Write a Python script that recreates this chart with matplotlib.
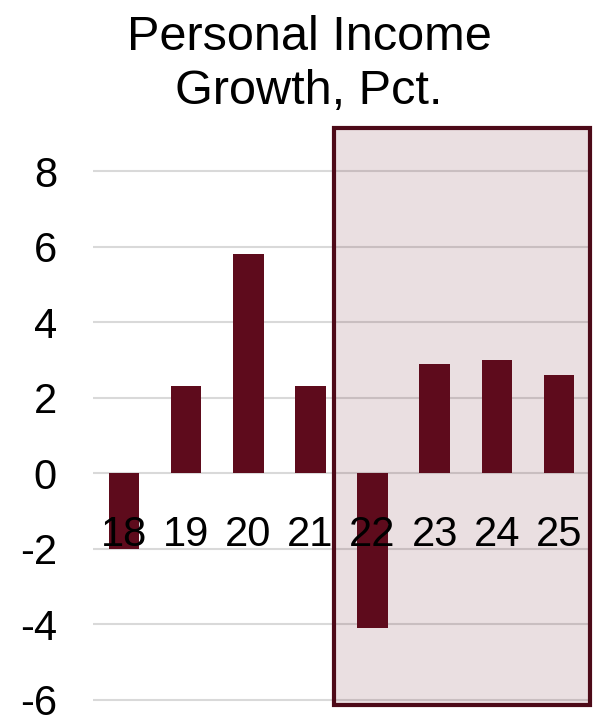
import matplotlib
matplotlib.use("Agg")
import matplotlib.pyplot as plt
from matplotlib.patches import Rectangle

plt.rcParams['font.family'] = ['Liberation Sans', 'DejaVu Sans']

years = ['18', '19', '20', '21', '22', '23', '24', '25']
growth = [-2.0, 2.3, 5.8, 2.3, -4.1, 2.9, 3.0, 2.6]
yticks = [-6, -4, -2, 0, 2, 4, 6, 8]
title_lines = ['Personal Income', 'Growth, Pct.']

bar_color = '#5E0B1C'
edge_color = '#4D0A18'

fig = plt.figure(figsize=(5.93, 7.21), dpi=100)
ax = fig.add_axes([93/593, 10/721, 497/593, 589/721])

x = list(range(len(years)))
ax.bar(x, growth, width=0.49, color=bar_color, zorder=3)

ax.set_xlim(-0.5, 7.5)
ax.set_ylim(-6.3, 9.3)
ax.set_yticks(yticks)
ax.set_yticklabels([str(v) for v in yticks], fontsize=30)
ax.yaxis.grid(True, color='#D9D9D9', linewidth=1.5, zorder=0)
ax.set_axisbelow(True)
ax.tick_params(axis='y', length=0, pad=26)
ax.set_xticks([])
for s in ax.spines.values():
    s.set_visible(False)

# category labels just below the zero line, drawn over the bars
for xi, lab in zip(x, years):
    ax.text(xi, -1.63, lab, ha='center', va='center', fontsize=30, zorder=6)

# forecast highlight box
rect = Rectangle((3.38, -6.15), 7.5 - 3.38, 9.14 + 6.15,
                 facecolor=(94/255, 11/255, 28/255, 0.13),
                 edgecolor=edge_color, linewidth=3, zorder=2, clip_on=False)
ax.add_patch(rect)

fig.text(309/593, 1 - 50/721, title_lines[0], ha='center', va='baseline', fontsize=35)
fig.text(309/593, 1 - 104/721, title_lines[1], ha='center', va='baseline', fontsize=35)

fig.savefig('out.png', dpi=100)
